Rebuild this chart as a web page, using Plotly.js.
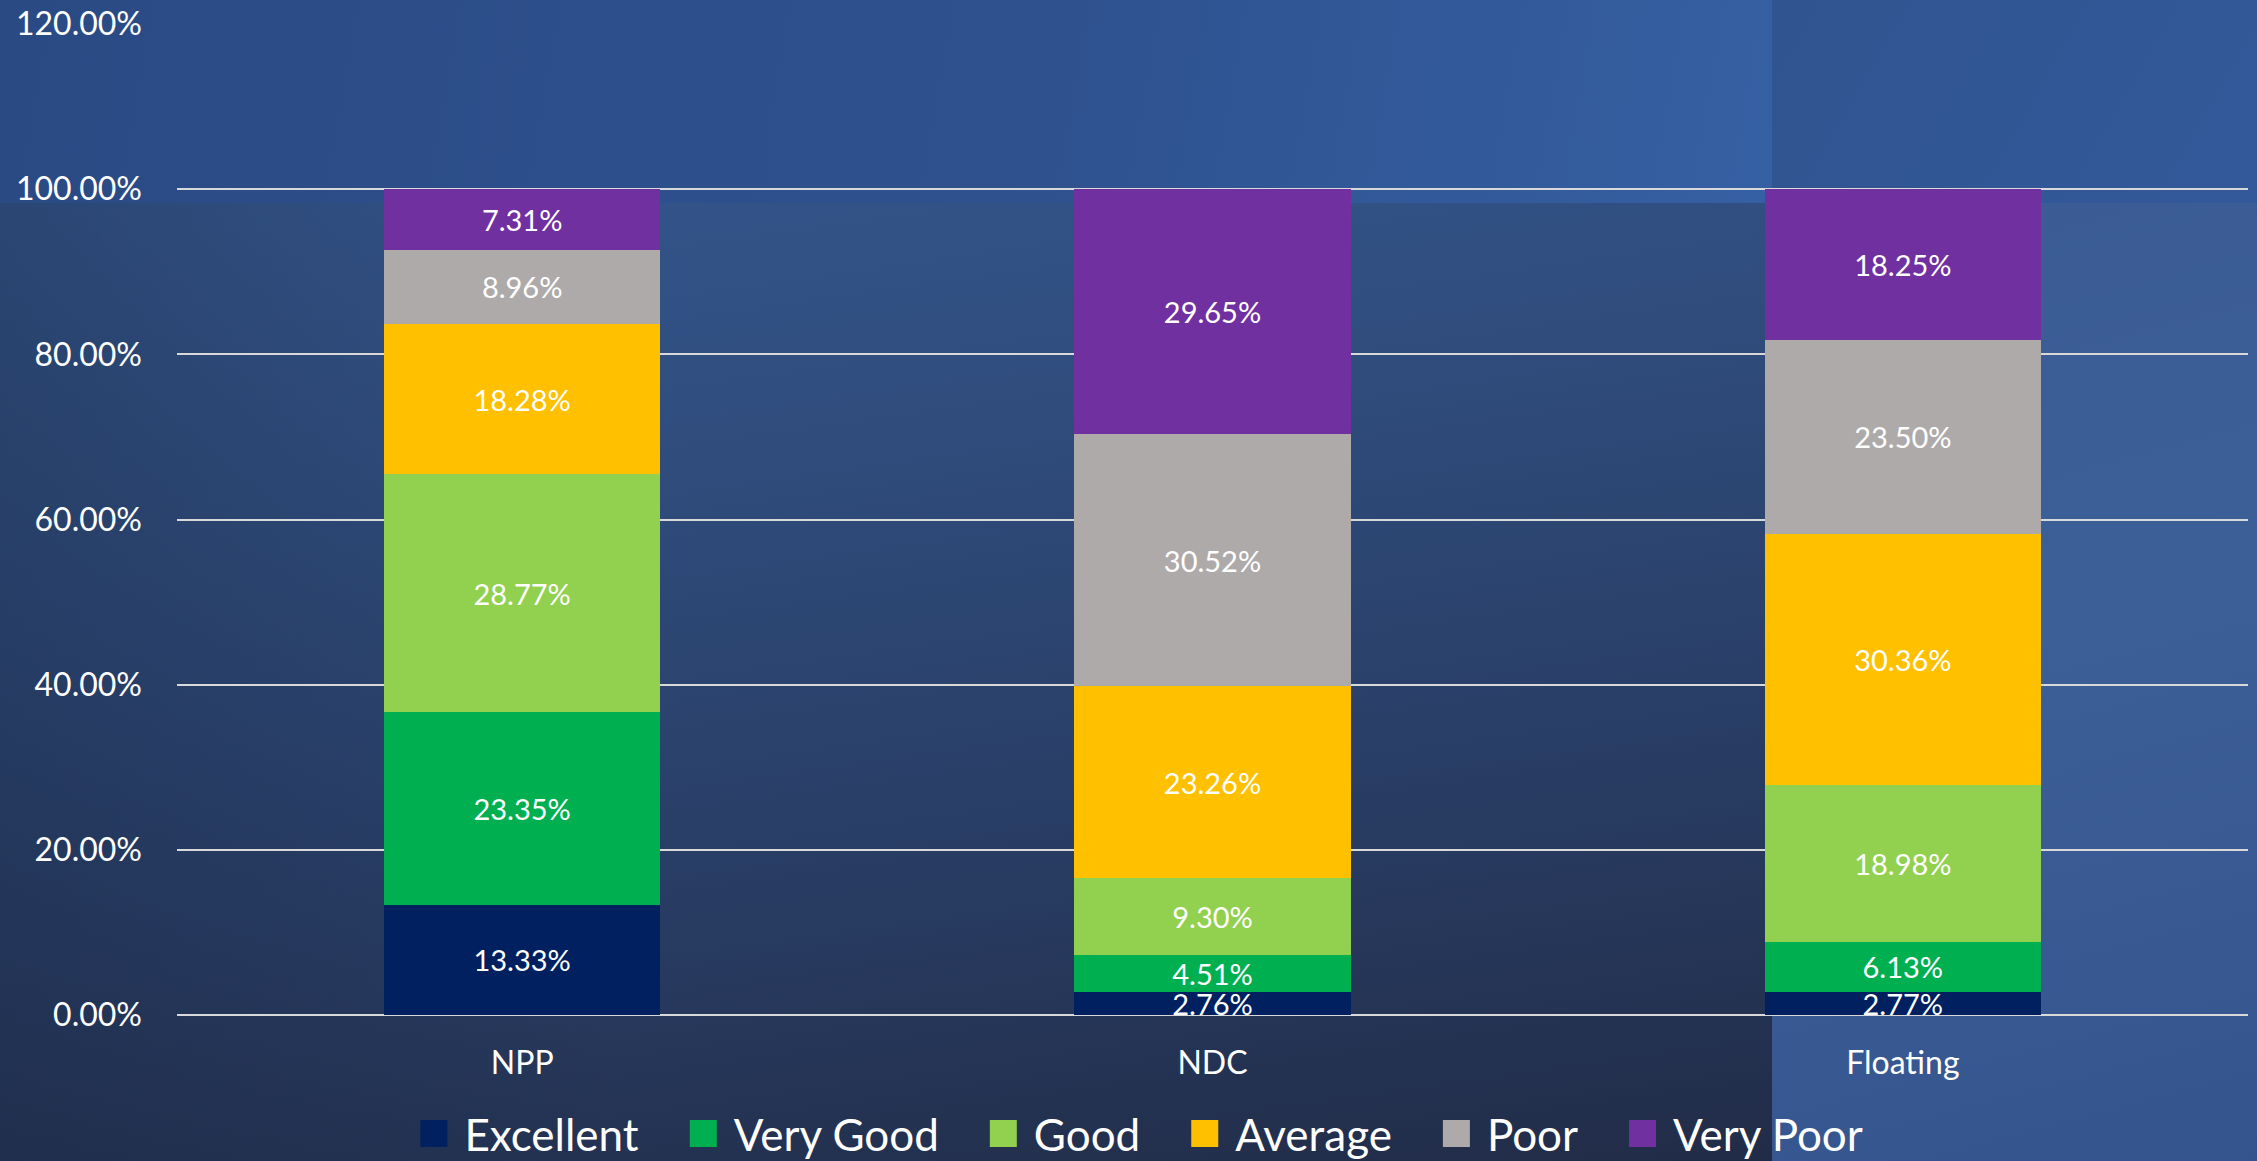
<!DOCTYPE html>
<html>
<head>
<meta charset="utf-8">
<script src="https://cdn.plot.ly/plotly-3.0.1.min.js"></script>
<style>
  html, body { margin: 0; padding: 0; width: 2257px; height: 1161px; overflow: hidden; }
  body { position: relative; background: #263a5e; }
  #bgTop { position: absolute; left: 0; top: 0; width: 1772px; height: 203px;
    background: linear-gradient(100deg, #2a4a84 0%, #2f528f 60%, #3560a3 100%); }
  #bgTopR { position: absolute; left: 1772px; top: 0; width: 485px; height: 203px;
    background: linear-gradient(120deg, #30548f 0%, #33599a 100%); }
  #bgMain { position: absolute; left: 0; top: 203px; width: 1772px; height: 958px;
    background:
      linear-gradient(90deg, rgba(18,28,50,0.28) 0%, rgba(18,28,50,0) 35%),
      linear-gradient(172deg, #34568c 0%, #2f4c7c 30%, #293e66 62%, #212c47 100%); }
  #bgRight { position: absolute; left: 1772px; top: 203px; width: 485px; height: 958px;
    background: linear-gradient(165deg, #3a5b94 0%, #3d5f98 45%, #34548e 100%); }
  #chart { position: absolute; left: 0; top: 0; width: 2257px; height: 1161px; }
</style>
</head>
<body>
<div id="bgTop"></div><div id="bgTopR"></div><div id="bgMain"></div><div id="bgRight"></div>
<div id="chart"></div>
<script>
const categories = ["NPP", "NDC", "Floating"];
const seriesNames = ["Excellent", "Very Good", "Good", "Average", "Poor", "Very Poor"];
const excellent = [13.33, 2.76, 2.77];
const veryGood  = [23.35, 4.51, 6.13];
const good      = [28.77, 9.30, 18.98];
const average   = [18.28, 23.26, 30.36];
const poor      = [8.96, 30.52, 23.50];
const veryPoor  = [7.31, 29.65, 18.25];
const colors = ["#002060", "#00b050", "#92d050", "#ffc000", "#aeaaaa", "#7030a0"];
const tickVals = [0, 20, 40, 60, 80, 100, 120];

const allSeries = [excellent, veryGood, good, average, poor, veryPoor];
const FONT = "Lato, 'Open Sans', sans-serif";

const traces = allSeries.map((vals, i) => ({
  type: "bar",
  name: seriesNames[i],
  x: categories,
  y: vals,
  marker: { color: colors[i], line: { width: 0 } },
  text: vals.map(v => v.toFixed(2) + "%"),
  textposition: "inside",
  insidetextanchor: "middle",
  constraintext: "none",
  textangle: 0,
  textfont: { family: FONT, size: 29, color: "#ffffff" },
  hoverinfo: "skip"
}));

const layout = {
  width: 2257,
  height: 1161,
  barmode: "stack",
  bargap: 0.6,
  paper_bgcolor: "rgba(0,0,0,0)",
  plot_bgcolor: "rgba(0,0,0,0)",
  margin: { l: 177, r: 9, t: 24, b: 146, pad: 0, autoexpand: false },
  font: { family: FONT, color: "#ffffff" },
  xaxis: {
    showgrid: false,
    zeroline: false,
    showline: false,
    ticks: "",
    tickfont: { family: FONT, size: 32, color: "#ffffff" },
    ticklabelstandoff: 26
  },
  yaxis: {
    range: [0, 120],
    tickvals: tickVals,
    ticktext: tickVals.map(v => v.toFixed(2) + "%"),
    showgrid: true,
    gridcolor: "#d9d9d9",
    gridwidth: 2,
    zeroline: true,
    zerolinecolor: "#d9d9d9",
    zerolinewidth: 2,
    showline: false,
    ticks: "",
    ticklabelstandoff: 34,
    tickfont: { family: FONT, size: 32, color: "#ffffff" }
  },
  showlegend: true,
  legend: {
    orientation: "h",
    x: 0.456,
    xanchor: "center",
    y: -0.12,
    yanchor: "middle",
    traceorder: "normal",
    font: { family: FONT, size: 44, color: "#ffffff" },
    bgcolor: "rgba(0,0,0,0)",
    itemwidth: 80
  }
};

Plotly.newPlot("chart", traces, layout, { displayModeBar: false, staticPlot: true }).then(() => {
  // enlarge the legend swatches to the square size of the reference and place them next to their text
  document.querySelectorAll(".legend .legendpoints path").forEach(p => {
    p.setAttribute("transform", "translate(59.5,0) scale(2.25)");
  });
});
</script>
</body>
</html>
